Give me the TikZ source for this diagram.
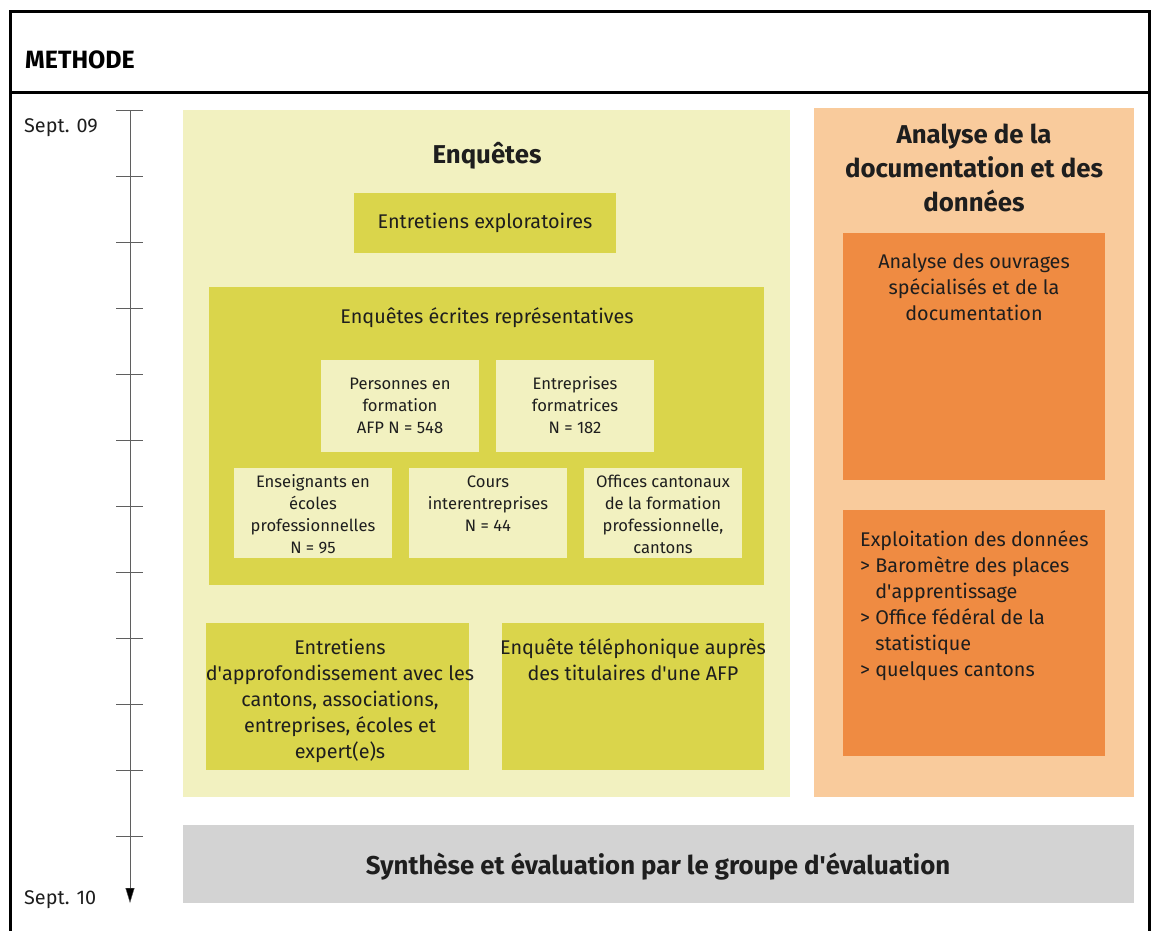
\documentclass[tikz,border=0pt]{standalone}
\usepackage{fontspec}
\setmainfont{Fira Sans}
\usetikzlibrary{arrows.meta}
\usetikzlibrary{positioning}
\definecolor{paleyellow}{RGB}{242,241,192}
\definecolor{olive}{RGB}{218,213,75}
\definecolor{paleorange}{RGB}{249,203,156}
\definecolor{deeporange}{RGB}{239,139,66}
\definecolor{lightgrey}{RGB}{211,211,211}
\definecolor{axisgrey}{RGB}{95,95,95}
\definecolor{inkgrey}{RGB}{30,30,30}

\begin{document}
\begin{tikzpicture}[x=1pt,y=-1pt,
  bodytext/.style={font=\fontsize{19.8}{26}\selectfont,text=inkgrey,align=center,inner sep=0pt,anchor=base},
  smalltext/.style={font=\fontsize{16.6}{22}\selectfont,text=inkgrey,align=center,inner sep=0pt,anchor=base},
  headtext/.style={font=\fontsize{25.8}{34}\selectfont\bfseries,text=inkgrey,align=center,inner sep=0pt,anchor=base}]
\useasboundingbox (0,0) rectangle (1153,930);

% frame
\draw[line width=3pt] (10,935) -- (10,11) -- (1149,11) -- (1149,935);
\draw[line width=3pt] (10,92) -- (1149,92);
\node[font=\fontsize{25}{30}\selectfont\bfseries,anchor=base west,inner sep=0pt] (methode) at (25,68) {METHODE};

% time axis (last baseline used as base of multi-line texts)
\coordinate (tstart) at (130,110);
\coordinate (tend) at (130,903);
\draw[axisgrey,thin,-{Triangle[length=15pt,width=9pt,fill=black]}] (tstart) -- (tend);
\foreach \k in {0,...,11}
  \draw[axisgrey,thin] (116,{110+66*\k}) -- (143,{110+66*\k});
\node[bodytext,anchor=base west] (sept09) at (24,132) {Sept. 09};
\node[bodytext,anchor=base west] (sept10) at (24,904) {Sept. 10};

% Enquetes
\fill[paleyellow] (183,110) rectangle (790,797);
\node[headtext] (enq) at (487,163) {Enquêtes};
\fill[olive] (354,193) rectangle (616,253);
\node[bodytext] (explo) at (485,228) {Entretiens exploratoires};
\fill[olive] (209,287) rectangle (764,585);
\node[bodytext] (ecrites) at (487,323) {Enquêtes écrites représentatives};

\fill[paleyellow] (321,360) rectangle (479,452);
\node[smalltext] (pers) at (400,433) {Personnes en\\formation\\AFP N = 548};
\fill[paleyellow] (496,360) rectangle (654,452);
\node[smalltext] (entr) at (575,433) {Entreprises\\formatrices\\N = 182};
\fill[paleyellow] (234,468) rectangle (392,558);
\node[smalltext] (ens) at (313,553) {Enseignants en\\écoles\\professionnelles\\N = 95};
\fill[paleyellow] (409,468) rectangle (567,558);
\node[smalltext] (cours) at (488,531) {Cours\\interentreprises\\N = 44};
\fill[paleyellow] (584,468) rectangle (742,558);
\node[smalltext] (offices) at (663,553) {Offices cantonaux\\de la formation\\professionnelle,\\cantons};

\fill[olive] (206,623) rectangle (469,770);
\node[bodytext] (approf) at (340,758) {Entretiens\\d\textquotesingle approfondissement avec les\\cantons, associations,\\entreprises, écoles et\\expert(e)s};
\fill[olive] (502,623) rectangle (764,770);
\node[bodytext] (tel) at (633,680) {Enquête téléphonique auprès\\des titulaires d\textquotesingle une AFP};

% Analyse
\fill[paleorange] (814,108) rectangle (1134,797);
\node[headtext] (analyse) at (974,211) {Analyse de la\\documentation et des\\données};
\fill[deeporange] (843,233) rectangle (1105,480);
\node[bodytext] (ouvrages) at (974,320) {Analyse des ouvrages\\spécialisés et de la\\documentation};
\fill[deeporange] (843,510) rectangle (1105,756);
\node[bodytext,align=left,anchor=base west] (exploit) at (860,676) {Exploitation des données\\> Baromètre des places\\\phantom{> }d\textquotesingle apprentissage\\> Office fédéral de la\\\phantom{> }statistique\\> quelques cantons};

% synthese
\fill[lightgrey] (183,825) rectangle (1134,903);
\node[headtext] (synth) at (658,874) {Synthèse et évaluation par le groupe d\textquotesingle évaluation};
\end{tikzpicture}
\end{document}
